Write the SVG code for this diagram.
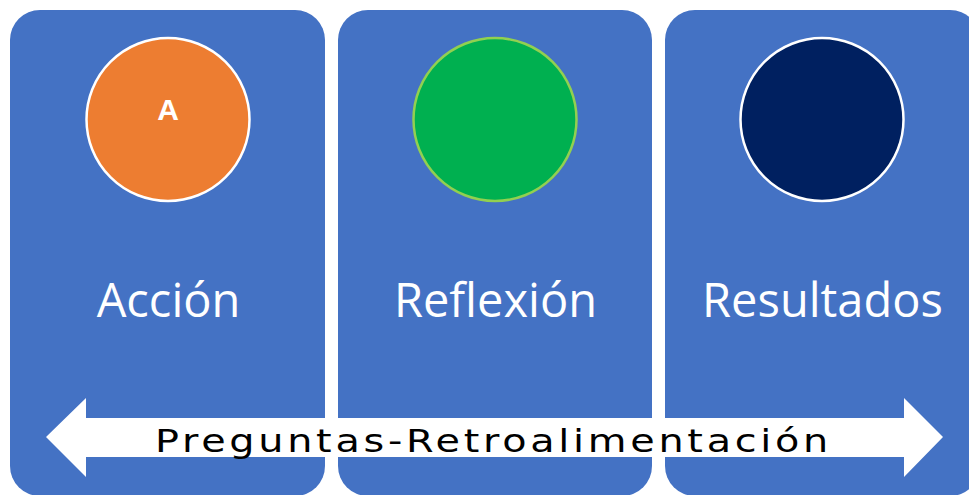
<svg xmlns="http://www.w3.org/2000/svg" width="969" height="495" viewBox="0 0 969 495">
<style>
.panel{fill:#4472C4}
.label{font-family:"Open Sans","Liberation Sans",sans-serif;font-size:47px;fill:#fff;text-anchor:middle}
.circ{stroke-width:2.5}
</style>
<rect width="969" height="495" fill="#fff"/>
<g id="accion">
<rect class="panel" x="10" y="10" width="315" height="486" rx="30"/>
<circle class="circ" cx="168" cy="119.5" r="81.5" fill="#ED7D31" stroke="#fff"/>
<text x="168" y="120" font-family="Liberation Sans, sans-serif" font-weight="bold" font-size="30" fill="#fff" text-anchor="middle">A</text>
<text class="label" x="168.5" y="317">Acción</text>
</g>
<g id="reflexion">
<rect class="panel" x="338" y="10" width="314" height="486" rx="30"/>
<circle class="circ" cx="495" cy="119.5" r="81.5" fill="#00B050" stroke="#92D050"/>
<text class="label" x="495.5" y="317">Reflexión</text>
</g>
<g id="resultados">
<rect class="panel" x="665" y="10" width="315" height="486" rx="30"/>
<circle class="circ" cx="822" cy="119.5" r="81.5" fill="#002060" stroke="#fff"/>
<text class="label" x="822.5" y="317">Resultados</text>
</g>
<g id="connectors">
<path d="M46,437 L86,398 L86,418 L904,418 L904,398 L943,437 L904,477 L904,457 L86,457 L86,477 Z" fill="#fff"/>
<text x="155" y="452" font-family="DejaVu Sans, sans-serif" font-size="32" fill="#000" letter-spacing="3" textLength="677" lengthAdjust="spacingAndGlyphs">Preguntas-Retroalimentación</text>
</g>
</svg>
